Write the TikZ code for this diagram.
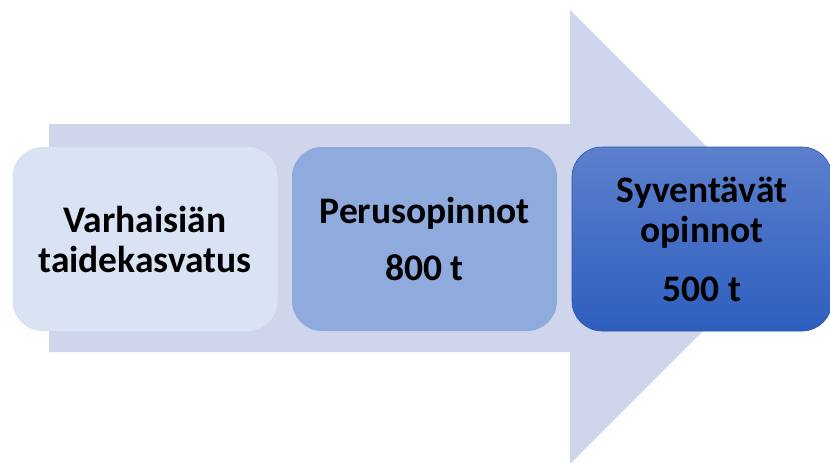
\documentclass[tikz,border=0pt]{standalone}
\usepackage{fontspec}
\setmainfont{Carlito}
\usepackage{tikz}
\usetikzlibrary{positioning}

\definecolor{arrowbg}{HTML}{CFD5EA}
\definecolor{stepone}{HTML}{DAE3F3}
\definecolor{steptwo}{HTML}{8FAADC}
\definecolor{stepthreetop}{HTML}{5C80CD}
\definecolor{stepthreebot}{HTML}{2E5EBE}

\begin{document}
\begin{tikzpicture}[x=1pt, y=-1pt,
    stagebox/.style={rounded corners=30pt, minimum width=265pt, minimum height=184pt,
        align=center, font=\fontsize{37.5}{40}\selectfont\bfseries, inner sep=0pt}]
    \useasboundingbox (0,0) rectangle (830,463);
    \fill[arrowbg] (49,124) -- (570,124) -- (570,10) -- (797,237) -- (570,464) -- (570,352) -- (49,352) -- cycle;
    \node[stagebox, fill=stepone] (early) at (145,239) {Varhaisiän\\taidekasvatus};
    \node[stagebox, fill=steptwo] (basic) at (424.5,239) {Perusopinnot\\[17pt]800 t};
    \node[stagebox, top color=stepthreetop, bottom color=stepthreebot, draw=stepthreebot!90!black, line width=0.6pt,
        minimum width=260pt] (deep) at (702,239) {Syventävät\\opinnot\\[19pt]500 t};
\end{tikzpicture}
\end{document}
